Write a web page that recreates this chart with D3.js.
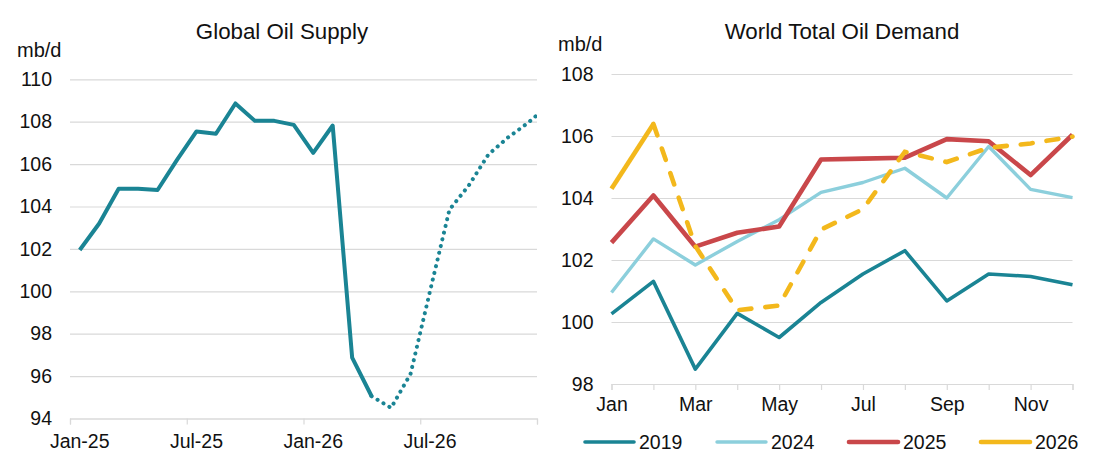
<!DOCTYPE html>
<html>
<head>
<meta charset="utf-8">
<script src="https://cdn.jsdelivr.net/npm/d3@7"></script>
<style>
  body { margin: 0; background: #fff; }
  svg { display: block; font-family: "Liberation Sans", Arial, sans-serif; }
</style>
</head>
<body>
<div id="chart"></div>
<script>
// ---- Global Oil Supply (monthly, mb/d) ----
const supplyMonths = [
  "Jan-25", "Feb-25", "Mar-25", "Apr-25", "May-25", "Jun-25",
  "Jul-25", "Aug-25", "Sep-25", "Oct-25", "Nov-25", "Dec-25",
  "Jan-26", "Feb-26", "Mar-26", "Apr-26", "May-26", "Jun-26",
  "Jul-26", "Aug-26", "Sep-26", "Oct-26", "Nov-26", "Dec-26", "Jan-27"
];
const supplyValues = [
  101.95, 103.2, 104.84, 104.84, 104.78, 106.2,
  107.54, 107.43, 108.86, 108.04, 108.04, 107.85,
  106.53, 107.82, 96.87, 95.05, 94.5, 96.1,
  100.0, 103.85, 105.0, 106.45, 107.25, 107.92, 108.7
];
const supplyLastActual = "Apr-26"; // dotted forecast after this month
const supplyAxisMonths = 24; // axis shows Jan-25 .. Dec-26
const supplyTickLabels = ["Jan-25", "Jul-25", "Jan-26", "Jul-26"];
const supplyYTicks = [94, 96, 98, 100, 102, 104, 106, 108, 110];

// ---- World Total Oil Demand (monthly, mb/d) ----
const demandMonths = ["Jan", "Feb", "Mar", "Apr", "May", "Jun", "Jul", "Aug", "Sep", "Oct", "Nov", "Dec"];
const demandTickLabels = ["Jan", "Mar", "May", "Jul", "Sep", "Nov"];
const demandYTicks = [98, 100, 102, 104, 106, 108];
const demandYears = ["2019", "2024", "2025", "2026"];
const demand2019 = [100.26, 101.31, 98.48, 100.28, 99.5, 100.63, 101.55, 102.3, 100.68, 101.55, 101.47, 101.2];
const demand2024 = [100.95, 102.68, 101.84, 102.6, 103.3, 104.18, 104.5, 104.96, 104.0, 105.66, 104.28, 104.01];
const demand2025 = [102.56, 104.08, 102.43, 102.88, 103.08, 105.24, 105.27, 105.3, 105.9, 105.83, 104.74, 106.04];
const demand2026 = [104.3, 106.39, 102.45, 100.38, 100.53, 102.98, 103.64, 105.49, 105.16, 105.62, 105.76, 105.98];
const demand2026LastActual = "Feb"; // dashed after this month

const gridColor = "#d9d9d9";
const textColor = "#111";
const tickFont = 19.5;

const svg = d3
  .select("#chart")
  .append("svg")
  .attr("width", 1097)
  .attr("height", 474);

svg.append("rect").attr("width", 1097).attr("height", 474).attr("fill", "#fff");

// ===================== Left: supply =====================
const sx0 = 70, sx1 = 537, sy0 = 418.5, sy1 = 79.3;

const xS = d3.scaleLinear().domain([0, supplyAxisMonths]).range([sx0, sx1]);
const yS = d3.scaleLinear().domain([94, 110]).range([sy0, sy1]);

const left = svg.append("g");

// gridlines + y labels
left
  .append("g")
  .attr("transform", `translate(${sx0},0)`)
  .call(d3.axisLeft(yS).tickValues(supplyYTicks).tickSize(-(sx1 - sx0)).tickPadding(18))
  .call((g) => g.select(".domain").remove())
  .call((g) => g.selectAll("line").attr("stroke", gridColor).attr("stroke-width", 1.2))
  .call((g) =>
    g.selectAll("text").attr("font-size", tickFont).attr("fill", textColor).attr("font-family", null)
  );

// x axis tick marks at half-year boundaries
left
  .append("g")
  .attr("transform", `translate(0,${sy0})`)
  .call(d3.axisBottom(xS).tickValues([0, 6, 12, 18, 24]).tickSize(6).tickFormat(""))
  .call((g) => g.select(".domain").attr("stroke", gridColor).attr("stroke-width", 1.2))
  .call((g) => g.selectAll("line").attr("stroke", gridColor).attr("stroke-width", 1.2));

// x labels centred on their month
left
  .selectAll("text.xlab")
  .data(supplyTickLabels)
  .join("text")
  .attr("class", "xlab")
  .attr("x", (d) => xS(supplyMonths.indexOf(d) + 0.5))
  .attr("y", 448)
  .attr("text-anchor", "middle")
  .attr("font-size", tickFont)
  .attr("fill", textColor)
  .text((d) => d);

left
  .append("text")
  .attr("x", 282)
  .attr("y", 39)
  .attr("text-anchor", "middle")
  .attr("font-size", 22.3)
  .attr("fill", textColor)
  .text("Global Oil Supply");

left
  .append("text")
  .attr("x", 17)
  .attr("y", 57)
  .attr("font-size", 20)
  .attr("fill", textColor)
  .text("mb/d");

// clip so the trailing point stops at the plot edge
svg
  .append("defs")
  .append("clipPath")
  .attr("id", "supply-clip")
  .append("rect")
  .attr("x", sx0)
  .attr("y", 0)
  .attr("width", sx1 - sx0)
  .attr("height", 474);

const supplyPts = supplyValues.map((v, i) => ({ i, v }));
const cut = supplyMonths.indexOf(supplyLastActual);
const supplyLine = d3
  .line()
  .x((d) => xS(d.i + 0.5))
  .y((d) => yS(d.v));

const supplyG = left.append("g").attr("clip-path", "url(#supply-clip)");

supplyG
  .append("path")
  .datum(supplyPts.slice(0, cut + 1))
  .attr("d", supplyLine)
  .attr("fill", "none")
  .attr("stroke", "#1a8494")
  .attr("stroke-width", 4)
  .attr("stroke-linejoin", "round");

// forecast, dotted
supplyG
  .append("path")
  .datum(supplyPts.slice(cut))
  .attr("d", supplyLine)
  .attr("fill", "none")
  .attr("stroke", "#1a8494")
  .attr("stroke-width", 4)
  .attr("stroke-linecap", "round")
  .attr("stroke-dasharray", "0.1 6.8");

// ===================== Right: demand =====================
const dx0 = 611.5, dx1 = 1072.5, dy0 = 384, dy1 = 74;

const xD = d3.scalePoint().domain(demandMonths).range([dx0, dx1]);
const yD = d3.scaleLinear().domain([98, 108]).range([dy0, dy1]);

const right = svg.append("g");

right
  .append("g")
  .attr("transform", `translate(${dx0},0)`)
  .call(d3.axisLeft(yD).tickValues(demandYTicks).tickSize(-(dx1 - dx0)).tickPadding(18))
  .call((g) => g.select(".domain").remove())
  .call((g) => g.selectAll("line").attr("stroke", gridColor).attr("stroke-width", 1.2))
  .call((g) =>
    g.selectAll("text").attr("font-size", tickFont).attr("fill", textColor).attr("font-family", null)
  );

right
  .append("g")
  .attr("transform", `translate(0,${dy0})`)
  .call(
    d3
      .axisBottom(xD)
      .tickSize(6)
      .tickPadding(7)
      .tickFormat((d) => (demandTickLabels.includes(d) ? d : ""))
  )
  .call((g) => g.select(".domain").attr("stroke", gridColor).attr("stroke-width", 1.2))
  .call((g) => g.selectAll("line").attr("stroke", gridColor).attr("stroke-width", 1.2))
  .call((g) =>
    g.selectAll("text").attr("font-size", tickFont).attr("fill", textColor).attr("font-family", null)
  );

right
  .append("text")
  .attr("x", 842)
  .attr("y", 39)
  .attr("text-anchor", "middle")
  .attr("font-size", 22.3)
  .attr("fill", textColor)
  .text("World Total Oil Demand");

right
  .append("text")
  .attr("x", 558)
  .attr("y", 51)
  .attr("font-size", 20)
  .attr("fill", textColor)
  .text("mb/d");

const demandSeries = [
  { year: "2019", values: demand2019, color: "#1a8494", width: 3.6 },
  { year: "2024", values: demand2024, color: "#8ccfdc", width: 3.4 },
  { year: "2025", values: demand2025, color: "#c9474a", width: 4.6 },
  { year: "2026", values: demand2026, color: "#f3b81c", width: 4.6 }
];

const demandLine = d3
  .line()
  .x((d) => xD(d.m))
  .y((d) => yD(d.v));

demandSeries.forEach((s) => {
  const pts = s.values.map((v, i) => ({ m: demandMonths[i], v }));
  if (s.year === "2026") {
    const k = demandMonths.indexOf(demand2026LastActual);
    right
      .append("path")
      .datum(pts.slice(0, k + 1))
      .attr("d", demandLine)
      .attr("fill", "none")
      .attr("stroke", s.color)
      .attr("stroke-width", s.width)
      .attr("stroke-linejoin", "round");
    right
      .append("path")
      .datum(pts.slice(k))
      .attr("d", demandLine)
      .attr("fill", "none")
      .attr("stroke", s.color)
      .attr("stroke-width", s.width)
      .attr("stroke-linecap", "round")
      .attr("stroke-dasharray", "12 14");
  } else {
    right
      .append("path")
      .datum(pts)
      .attr("d", demandLine)
      .attr("fill", "none")
      .attr("stroke", s.color)
      .attr("stroke-width", s.width)
      .attr("stroke-linejoin", "round");
  }
});

// legend
const legend = right
  .selectAll("g.legend")
  .data(demandSeries)
  .join("g")
  .attr("class", "legend")
  .attr("transform", (d, i) => `translate(${585 + i * 132},442)`);

legend
  .append("line")
  .attr("x1", 0)
  .attr("x2", 49)
  .attr("stroke", (d) => d.color)
  .attr("stroke-width", (d) => d.width)
  .attr("stroke-linecap", "round");

legend
  .append("text")
  .attr("x", 54)
  .attr("y", 7)
  .attr("font-size", tickFont)
  .attr("fill", textColor)
  .text((d) => d.year);
</script>
</body>
</html>
